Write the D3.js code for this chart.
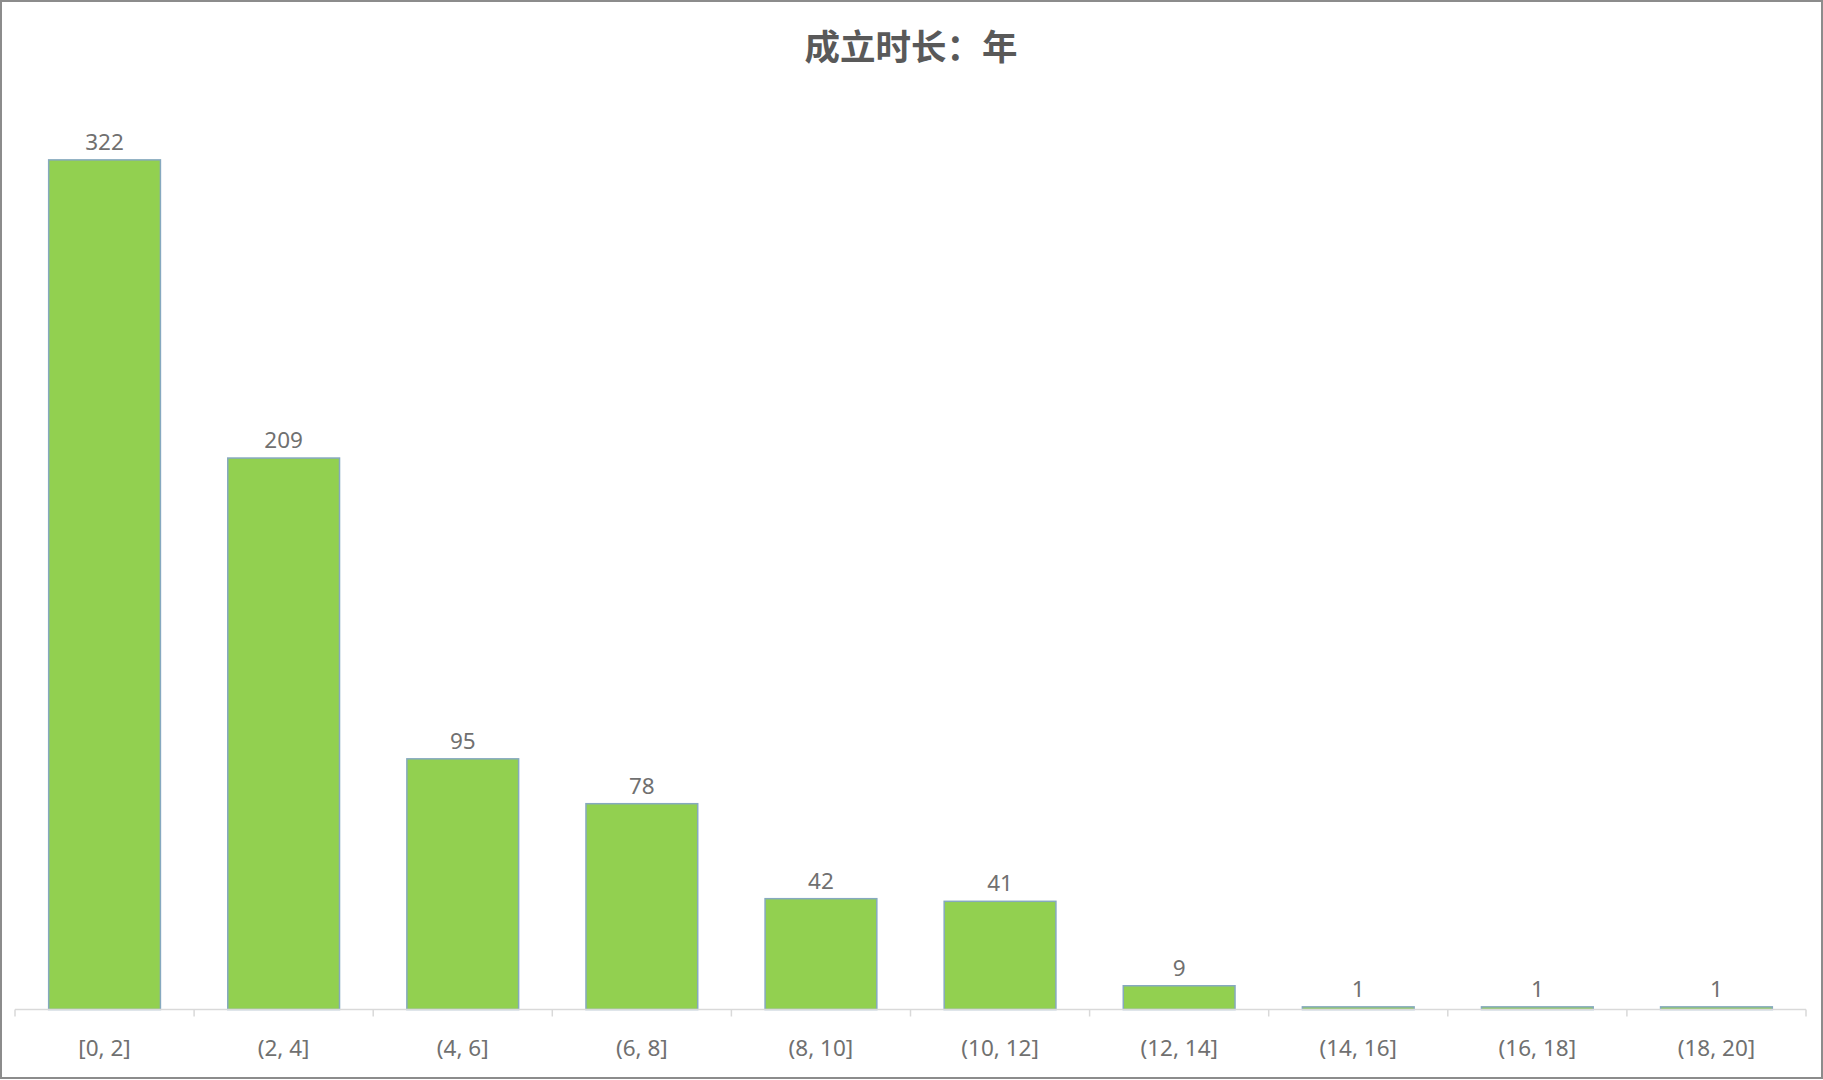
<!DOCTYPE html>
<html>
<head>
<meta charset="utf-8">
<script src="https://cdn.jsdelivr.net/npm/d3@7/dist/d3.min.js"></script>
<style>
  html, body { margin: 0; padding: 0; background: #fff; }
  svg { display: block; }
</style>
</head>
<body>
<svg id="chart" width="1823" height="1080"></svg>
<script>
const title = "成立时长：年";
const categories = ["[0, 2]", "(2, 4]", "(4, 6]", "(6, 8]", "(8, 10]", "(10, 12]", "(12, 14]", "(14, 16]", "(16, 18]", "(18, 20]"];
const counts = [322, 209, 95, 78, 42, 41, 9, 1, 1, 1];
const yDomain = [0, 350];

const W = 1823, H = 1080;
const svg = d3.select("#chart");
const font = "'Noto Sans', 'Open Sans', sans-serif";

// frame
svg.append("rect")
  .attr("x", 1).attr("y", 1).attr("width", W - 2).attr("height", H - 3)
  .attr("fill", "#fff").attr("stroke", "#8c8c8c").attr("stroke-width", 2);

// title
svg.append("text")
  .attr("x", 911).attr("y", 60)
  .attr("text-anchor", "middle")
  .attr("font-family", "'Noto Sans CJK SC', sans-serif")
  .attr("font-weight", "bold")
  .attr("font-size", 35.5)
  .attr("fill", "#595959")
  .text(title);

const data = categories.map((c, i) => ({ cat: c, val: counts[i] }));

const x = d3.scaleBand()
  .domain(categories)
  .range([15, 1806])
  .paddingInner(0.376)
  .paddingOuter(0.188);

const y = d3.scaleLinear().domain(yDomain).range([1009.5, 86]);

// bars
svg.append("g").selectAll("rect")
  .data(data)
  .join("rect")
  .attr("x", d => x(d.cat))
  .attr("y", d => y(d.val))
  .attr("width", x.bandwidth())
  .attr("height", d => y(0) - y(d.val))
  .attr("fill", "#92D050")
  .attr("stroke", "#86a9bf")
  .attr("stroke-width", 1.5);

// axis line and ticks at band boundaries
const step = x.step();
const boundaries = categories.map(c => x(c) - step * x.paddingInner() / 2);
boundaries.push(x.range()[1]);
const axisG = svg.append("g");
axisG.append("line")
  .attr("x1", x.range()[0]).attr("x2", x.range()[1])
  .attr("y1", y(0)).attr("y2", y(0))
  .attr("stroke", "#d9d9d9").attr("stroke-width", 1.5);
axisG.selectAll("line.tick")
  .data(boundaries)
  .join("line")
  .attr("class", "tick")
  .attr("x1", d => d).attr("x2", d => d)
  .attr("y1", y(0)).attr("y2", y(0) + 7)
  .attr("stroke", "#d9d9d9").attr("stroke-width", 1.5);

// category labels
axisG.selectAll("text")
  .data(categories)
  .join("text")
  .attr("x", d => x(d) + x.bandwidth() / 2)
  .attr("y", 1056)
  .attr("text-anchor", "middle")
  .attr("font-family", font)
  .attr("font-size", 22.5)
  .attr("fill", "#707070")
  .text(d => d);

// value labels
svg.append("g").selectAll("text")
  .data(data)
  .join("text")
  .attr("x", d => x(d.cat) + x.bandwidth() / 2)
  .attr("y", d => y(d.val) - 10)
  .attr("text-anchor", "middle")
  .attr("font-family", font)
  .attr("font-size", 22.5)
  .attr("fill", "#707070")
  .text(d => d.val);
</script>
</body>
</html>
